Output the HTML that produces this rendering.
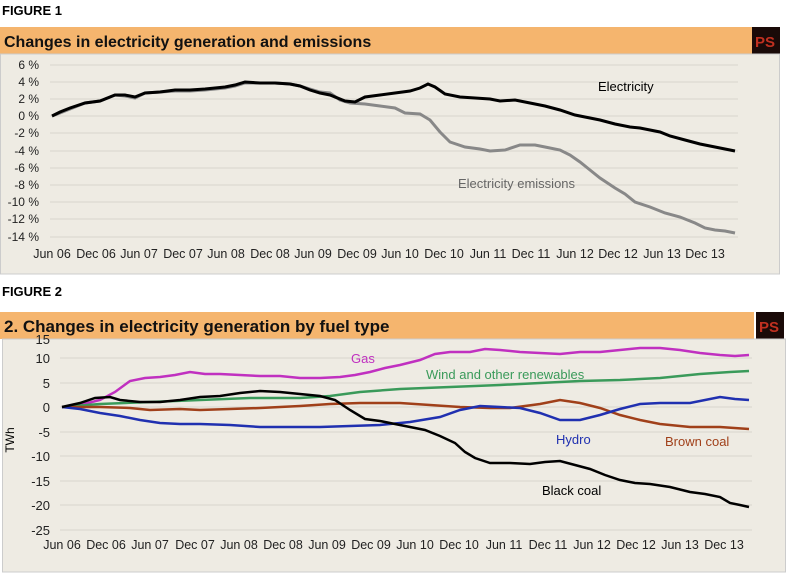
<!DOCTYPE html>
<html><head><meta charset="utf-8"><style>
body{margin:0;background:#fff;}
svg{display:block;font-family:"Liberation Sans",sans-serif;}
</style></head><body>
<svg width="786" height="574" viewBox="0 0 786 574">
<text x="2" y="15" font-size="13" font-weight="bold">FIGURE 1</text>
<rect x="0" y="27" width="752" height="27" fill="#f5b56e"/>
<text x="4" y="47" font-size="16" font-weight="bold" fill="#111">Changes in electricity  generation and emissions</text>
<rect x="752" y="27" width="28" height="27" fill="#1a0a08"/><text x="755" y="47" font-size="15" font-weight="bold" fill="#c03020">PS</text>
<rect x="0.5" y="54" width="779" height="220" fill="#eeebe3" stroke="#ccc"/>
<g stroke="#d8d5cc" stroke-width="1">
<line x1="50" x2="738" y1="65" y2="65"/><line x1="50" x2="738" y1="82" y2="82"/><line x1="50" x2="738" y1="99" y2="99"/><line x1="50" x2="738" y1="116" y2="116"/><line x1="50" x2="738" y1="133" y2="133"/><line x1="50" x2="738" y1="151" y2="151"/><line x1="50" x2="738" y1="168" y2="168"/><line x1="50" x2="738" y1="185" y2="185"/><line x1="50" x2="738" y1="202" y2="202"/><line x1="50" x2="738" y1="219" y2="219"/><line x1="50" x2="738" y1="237" y2="237"/>
</g>
<g font-size="12" text-anchor="end" fill="#222">
<text x="39" y="69">6 %</text><text x="39" y="86">4 %</text><text x="39" y="103">2 %</text><text x="39" y="120">0 %</text><text x="39" y="137">-2 %</text><text x="39" y="155">-4 %</text><text x="39" y="172">-6 %</text><text x="39" y="189">-8 %</text><text x="39" y="206">-10 %</text><text x="39" y="223">-12 %</text><text x="39" y="241">-14 %</text>
</g>
<g font-size="12.5" text-anchor="middle" fill="#222">
<text x="52" y="258">Jun 06</text><text x="96" y="258">Dec 06</text><text x="139" y="258">Jun 07</text><text x="183" y="258">Dec 07</text><text x="226" y="258">Jun 08</text><text x="270" y="258">Dec 08</text><text x="313" y="258">Jun 09</text><text x="357" y="258">Dec 09</text><text x="400" y="258">Jun 10</text><text x="444" y="258">Dec 10</text><text x="488" y="258">Jun 11</text><text x="531" y="258">Dec 11</text><text x="575" y="258">Jun 12</text><text x="618" y="258">Dec 12</text><text x="662" y="258">Jun 13</text><text x="705" y="258">Dec 13</text>
</g>
<polyline fill="none" stroke="#888" stroke-width="3" points="52,116 60,113 70,109 85,103 100,101 115,95 125,96 135,98 145,93 160,92 175,91 190,91 205,90 215,89 225,88 235,86 245,83 260,83 275,83 290,84 300,86 310,89 320,92 330,93 340,100 350,103 365,104 380,106 395,108 405,113 420,114 430,120 440,132 450,142 465,147 480,149 490,151 505,150 520,145 535,145 545,147 560,150 570,155 580,162 590,170 600,178 615,188 625,194 635,202 650,207 665,213 680,217 695,223 705,228 715,230 725,231 735,233"/>
<polyline fill="none" stroke="#000" stroke-width="3" points="52,116 60,112 70,108 85,103 100,101 115,95 125,95 135,97 145,93 160,92 175,90 190,90 205,89 215,88 225,87 235,85 245,82 260,83 275,83 290,84 300,86 310,90 320,93 330,95 345,101 355,102 365,97 380,95 395,93 410,91 420,88 428,84 435,87 445,94 460,97 475,98 490,99 500,101 515,100 530,103 545,106 560,110 575,115 590,118 600,120 615,124 630,127 640,128 650,130 660,132 670,136 685,140 700,144 715,147 725,149 735,151"/>
<text x="598" y="91" font-size="13">Electricity</text>
<text x="458" y="188" font-size="13" fill="#666">Electricity emissions</text>

<text x="2" y="296" font-size="13" font-weight="bold">FIGURE 2</text>
<rect x="0" y="312" width="754" height="27" fill="#f5b56e"/>
<text x="4" y="332" font-size="17" font-weight="bold" fill="#111">2. Changes in electricity generation by fuel type</text>
<rect x="756" y="312" width="28" height="28" fill="#1a0a08"/><text x="759" y="332" font-size="15" font-weight="bold" fill="#c03020">PS</text>
<rect x="2.5" y="339" width="783" height="233" fill="#eeebe3" stroke="#ccc"/>
<g stroke="#d8d5cc" stroke-width="1">
<line x1="60" x2="752" y1="358" y2="358"/><line x1="60" x2="752" y1="383" y2="383"/><line x1="60" x2="752" y1="407" y2="407"/><line x1="60" x2="752" y1="432" y2="432"/><line x1="60" x2="752" y1="456" y2="456"/><line x1="60" x2="752" y1="481" y2="481"/><line x1="60" x2="752" y1="505" y2="505"/><line x1="60" x2="752" y1="530" y2="530"/>
</g>
<g font-size="13" text-anchor="end" fill="#222">
<text x="50" y="344">15</text><text x="50" y="363">10</text><text x="50" y="388">5</text><text x="50" y="412">0</text><text x="50" y="437">-5</text><text x="50" y="461">-10</text><text x="50" y="486">-15</text><text x="50" y="510">-20</text><text x="50" y="535">-25</text>
</g>
<text x="14" y="440" font-size="12" transform="rotate(-90 14 440)" text-anchor="middle">TWh</text>
<g font-size="12.5" text-anchor="middle" fill="#222">
<text x="62" y="549">Jun 06</text><text x="106" y="549">Dec 06</text><text x="150" y="549">Jun 07</text><text x="195" y="549">Dec 07</text><text x="239" y="549">Jun 08</text><text x="283" y="549">Dec 08</text><text x="327" y="549">Jun 09</text><text x="371" y="549">Dec 09</text><text x="415" y="549">Jun 10</text><text x="459" y="549">Dec 10</text><text x="504" y="549">Jun 11</text><text x="548" y="549">Dec 11</text><text x="592" y="549">Jun 12</text><text x="636" y="549">Dec 12</text><text x="680" y="549">Jun 13</text><text x="724" y="549">Dec 13</text>
</g>
<g fill="none" stroke-width="2.5">
<polyline stroke="#c030c0" points="62,407 80,405 100,400 115,392 130,381 145,378 160,377 175,375 190,372 205,374 220,374 240,375 260,376 280,376 300,378 320,378 340,377 355,375 370,372 385,368 400,365 420,360 435,354 450,352 470,352 485,349 500,350 520,352 540,353 560,354 580,352 600,352 620,350 640,348 660,348 680,350 700,353 720,355 735,356 749,355"/>
<polyline stroke="#3a9a5a" points="62,407 100,404 150,402 200,400 250,398 300,398 330,396 360,392 400,389 450,387 500,385 540,383 580,381 620,380 660,378 700,374 730,372 749,371"/>
<polyline stroke="#a0401a" points="62,407 100,407 130,408 150,410 180,409 200,410 230,409 260,408 280,407 300,406 330,404 360,403 400,403 430,405 460,407 490,408 510,408 540,404 560,400 580,403 600,408 620,415 640,420 660,424 690,427 720,427 749,429"/>
<polyline stroke="#2030b0" points="62,407 80,409 100,413 120,416 140,420 160,423 180,424 200,424 230,425 260,427 290,427 320,427 350,426 380,425 410,422 440,417 460,410 480,406 500,407 520,408 540,413 560,420 580,420 600,415 620,409 640,404 660,403 690,403 720,397 735,399 749,400"/>
<polyline stroke="#000" points="62,407 80,403 95,398 110,397 120,400 140,402 160,402 180,400 200,397 220,396 240,393 260,391 280,392 300,394 320,396 335,400 350,410 365,419 380,421 395,424 410,427 425,430 440,436 455,443 465,452 475,458 490,463 510,463 530,464 545,462 560,461 575,465 590,469 605,475 620,480 635,483 650,484 670,487 690,492 705,494 720,497 730,503 740,505 749,507"/>
</g>
<g font-size="13">
<text x="351" y="363" fill="#c030c0">Gas</text>
<text x="426" y="379" fill="#3a9a5a">Wind and other renewables</text>
<text x="556" y="444" fill="#2030b0">Hydro</text>
<text x="665" y="446" fill="#a0401a">Brown coal</text>
<text x="542" y="495" fill="#000">Black coal</text>
</g>
</svg>
</body></html>
